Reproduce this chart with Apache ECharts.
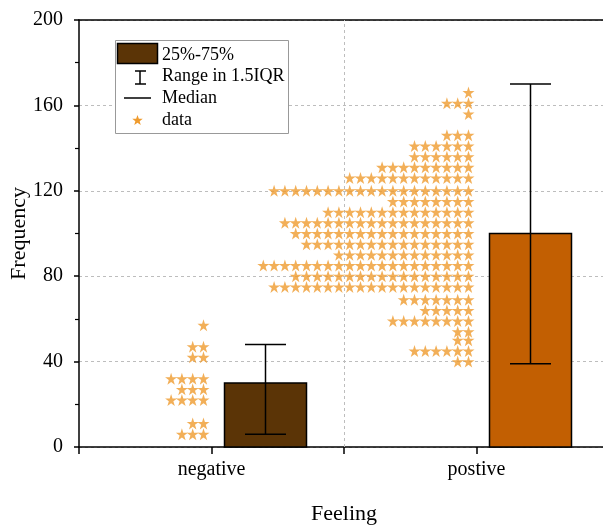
<!DOCTYPE html>
<html><head><meta charset="utf-8">
<script src="https://cdn.jsdelivr.net/npm/echarts@6/dist/echarts.min.js"></script>
<style>html,body{margin:0;padding:0;background:#fff}#c{width:603px;height:525px}</style>
</head><body><div id="c"></div>
<script>
// ---- data ----
const categories = ['negative', 'postive'];
const boxBottom = [0, 0];
const boxTop = [30, 100];
const rangeLow = [6, 39];
const rangeHigh = [48, 170];
const negStarValues = [6, 11, 22, 27, 32, 42, 47, 57];
const negStarCounts = [3, 2, 4, 3, 4, 2, 2, 1];
const posStarValues = [40, 45, 50, 54, 59, 64, 69, 75, 80, 85, 90, 95, 100, 105, 110, 115, 120, 126, 131, 136, 141, 146, 156, 161, 166];
const posStarCounts = [2, 6, 2, 2, 8, 5, 7, 19, 17, 20, 13, 16, 17, 18, 14, 8, 19, 12, 9, 6, 6, 3, 1, 3, 1];
const yTicks = [0, 40, 80, 120, 160, 200];
const legendLabels = ['25%-75%', 'Range in 1.5IQR', 'Median', 'data'];

// ---- styles ----
const FONT = "'Liberation Serif','Times New Roman',serif";
const barColors = ['#5b3406', '#c25f02'];
const starColor = '#ef9b2e';
const STAR = 'M50,2 L61,36 L97,36 L68,57 L79,92 L50,71 L21,92 L32,57 L3,36 L39,36 Z';

function starPoints(cx, cy, ro, ri) {
  const pts = [];
  for (let i = 0; i < 10; i++) {
    const r = i % 2 ? ri : ro;
    const a = -Math.PI / 2 + i * Math.PI / 5;
    pts.push([cx + r * Math.cos(a), cy + r * Math.sin(a)]);
  }
  return pts;
}

function starData(ci, values, counts) {
  const out = [];
  values.forEach((v, r) => {
    for (let k = 0; k < counts[r]; k++) {
      out.push({ value: [ci + 1, v], symbolOffset: [-(8 + k * 10.8), 0] });
    }
  });
  return out;
}
const stars = starData(0, negStarValues, negStarCounts).concat(starData(1, posStarValues, posStarCounts));

const chart = echarts.init(document.getElementById('c'));
chart.setOption({
  animation: false,
  backgroundColor: '#fff',
  grid: { left: 79, top: 20, width: 530, height: 427, outerBoundsMode: 'none', containLabel: false },
  xAxis: [{
    type: 'value', min: 0.5, max: 2.5, interval: 0.5,
    axisLine: { show: true, lineStyle: { color: '#000', width: 1.5 } },
    axisTick: { show: true, length: 7, lineStyle: { color: '#000', width: 1.5 } },
    axisLabel: {
      margin: 13, color: '#000', fontFamily: FONT, fontSize: 20,
      formatter: v => (Math.abs(v - Math.round(v)) < 1e-6 ? (categories[Math.round(v) - 1] || '') : '')
    },
    splitLine: { show: false },
    name: 'Feeling', nameLocation: 'middle', nameGap: 56, nameMoveOverlap: false,
    nameTextStyle: { color: '#000', fontFamily: FONT, fontSize: 22 }
  }, {
    type: 'value', min: 0.5, max: 2.5, position: 'top',
    axisLine: { show: true, lineStyle: { color: '#000', width: 1.5 } },
    axisTick: { show: false }, axisLabel: { show: false }, splitLine: { show: false }
  }],
  yAxis: {
    type: 'value', min: yTicks[0], max: yTicks[yTicks.length - 1], interval: yTicks[1] - yTicks[0],
    axisLine: { show: true, lineStyle: { color: '#000', width: 1.5 } },
    axisTick: { show: true, length: 5, lineStyle: { color: '#000', width: 1.5 } },
    minorTick: { show: true, splitNumber: 2, length: 4, lineStyle: { color: '#000', width: 1.2 } },
    axisLabel: { margin: 16, color: '#000', fontFamily: FONT, fontSize: 20 },
    splitLine: { show: true, lineStyle: { color: '#bdbdbd', type: [3, 3], width: 1 } },
    name: 'Frequency', nameLocation: 'middle', nameGap: 49, nameMoveOverlap: false,
    nameTextStyle: { color: '#000', fontFamily: FONT, fontSize: 22 }
  },
  series: [
    {
      type: 'custom', name: legendLabels[0], xAxisIndex: 0,
      data: categories.map((c, i) => [i + 1, boxBottom[i], boxTop[i]]),
      renderItem: (params, api) => {
        const x = api.coord([api.value(0), 0])[0];
        const y0 = api.coord([api.value(0), api.value(1)])[1];
        const y1 = api.coord([api.value(0), api.value(2)])[1];
        return { type: 'rect', shape: { x: x + 13, y: y1, width: 82, height: y0 - y1 },
          style: { fill: barColors[params.dataIndex], stroke: '#000', lineWidth: 1.5 } };
      },
      markLine: {
        silent: true, symbol: ['none', 'none'], label: { show: false },
        lineStyle: { color: '#bdbdbd', type: [3, 3], width: 1 },
        data: [{ xAxis: 1.5 }]
      },
      z: 3
    },
    {
      type: 'custom', name: legendLabels[1], xAxisIndex: 0,
      data: categories.map((c, i) => [i + 1, rangeLow[i], rangeHigh[i]]),
      renderItem: (params, api) => {
        const x = api.coord([api.value(0), 0])[0] + 54;
        const yl = api.coord([api.value(0), api.value(1)])[1];
        const yh = api.coord([api.value(0), api.value(2)])[1];
        const st = { stroke: '#000', lineWidth: 1.5 };
        return { type: 'group', children: [
          { type: 'line', shape: { x1: x, y1: yl, x2: x, y2: yh }, style: st },
          { type: 'line', shape: { x1: x - 20.5, y1: yh, x2: x + 20.5, y2: yh }, style: st },
          { type: 'line', shape: { x1: x - 20.5, y1: yl, x2: x + 20.5, y2: yl }, style: st }
        ] };
      },
      z: 4
    },
    {
      type: 'scatter', name: legendLabels[3], xAxisIndex: 0,
      symbol: 'path://' + STAR, symbolSize: 12,
      itemStyle: { color: starColor },
      data: stars, z: 5
    }
  ],
  graphic: [
    { type: 'rect', shape: { x: 115.5, y: 40.5, width: 173, height: 93 },
      style: { fill: '#fff', stroke: '#999', lineWidth: 1 }, z: 100 },
    { type: 'rect', shape: { x: 117.5, y: 43.5, width: 40, height: 20 },
      style: { fill: barColors[0], stroke: '#000', lineWidth: 1.5 }, z: 101 },
    { type: 'line', shape: { x1: 140, y1: 71, x2: 140, y2: 84 }, style: { stroke: '#000', lineWidth: 1.5 }, z: 101 },
    { type: 'line', shape: { x1: 135, y1: 71, x2: 146, y2: 71 }, style: { stroke: '#000', lineWidth: 1.5 }, z: 101 },
    { type: 'line', shape: { x1: 135, y1: 84, x2: 146, y2: 84 }, style: { stroke: '#000', lineWidth: 1.5 }, z: 101 },
    { type: 'line', shape: { x1: 124, y1: 98, x2: 151, y2: 98 }, style: { stroke: '#000', lineWidth: 1.5 }, z: 101 },
    { type: 'polygon', shape: { points: starPoints(137.5, 120.5, 5.5, 2.3) },
      style: { fill: starColor }, z: 101 },
    { type: 'text', x: 162, y: 55, style: { text: legendLabels[0], fill: '#000', font: '18px ' + FONT, verticalAlign: 'middle' }, z: 101 },
    { type: 'text', x: 162, y: 76, style: { text: legendLabels[1], fill: '#000', font: '18px ' + FONT, verticalAlign: 'middle' }, z: 101 },
    { type: 'text', x: 162, y: 98, style: { text: legendLabels[2], fill: '#000', font: '18px ' + FONT, verticalAlign: 'middle' }, z: 101 },
    { type: 'text', x: 162, y: 120, style: { text: legendLabels[3], fill: '#000', font: '18px ' + FONT, verticalAlign: 'middle' }, z: 101 }
  ]
});
</script>
</body></html>
